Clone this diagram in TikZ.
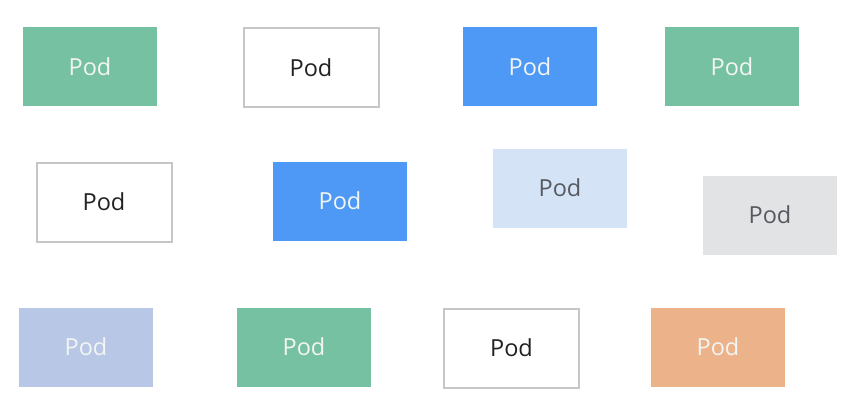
\documentclass[tikz,border=0pt]{standalone}
\usepackage{fontspec}
\setmainfont{Open Sans}
\definecolor{podgreen}{HTML}{76C1A1}
\definecolor{podblue}{HTML}{4E98F6}
\definecolor{podlblue}{HTML}{D4E4F6}
\definecolor{podgray}{HTML}{E2E3E5}
\definecolor{podlav}{HTML}{B8C7E5}
\definecolor{podorange}{HTML}{ECB289}
\definecolor{podborder}{HTML}{C6C6C6}
\definecolor{podtxtw}{HTML}{F2F5F3}
\definecolor{podtxtk}{HTML}{222222}
\definecolor{podtxtg}{HTML}{565A60}
\tikzset{
  podbase/.style={rectangle, inner sep=0pt, font=\fontsize{23.5}{28}\selectfont},
  podfill/.style={podbase, minimum width=134pt, minimum height=79pt, fill=#1, draw=none},
  podwhite/.style={podbase, minimum width=135pt, minimum height=79pt, fill=white, draw=podborder, line width=2pt, text=podtxtk},
}
\begin{document}
\begin{tikzpicture}[x=1pt,y=-1pt]
\useasboundingbox (0,0) rectangle (852,412);
% row 1
\node[podfill=podgreen, text=podtxtw] (a1) at (90,67) {Pod};
\node[podwhite] (a2) at (311,68) {Pod};
\node[podfill=podblue, text=podtxtw] (a3) at (530,67) {Pod};
\node[podfill=podgreen, text=podtxtw] (a4) at (732,67) {Pod};
% row 2
\node[podwhite] (b1) at (104,202) {Pod};
\node[podfill=podblue, text=podtxtw] (b2) at (340,201) {Pod};
\node[podfill=podlblue, text=podtxtg] (b3) at (560,188) {Pod};
\node[podfill=podgray, text=podtxtg] (b4) at (770,215) {Pod};
% row 3
\node[podfill=podlav, text=podtxtw] (c1) at (86,347) {Pod};
\node[podfill=podgreen, text=podtxtw] (c2) at (304,347) {Pod};
\node[podwhite] (c3) at (511.5,348) {Pod};
\node[podfill=podorange, text=podtxtw] (c4) at (718,347) {Pod};
\end{tikzpicture}
\end{document}
